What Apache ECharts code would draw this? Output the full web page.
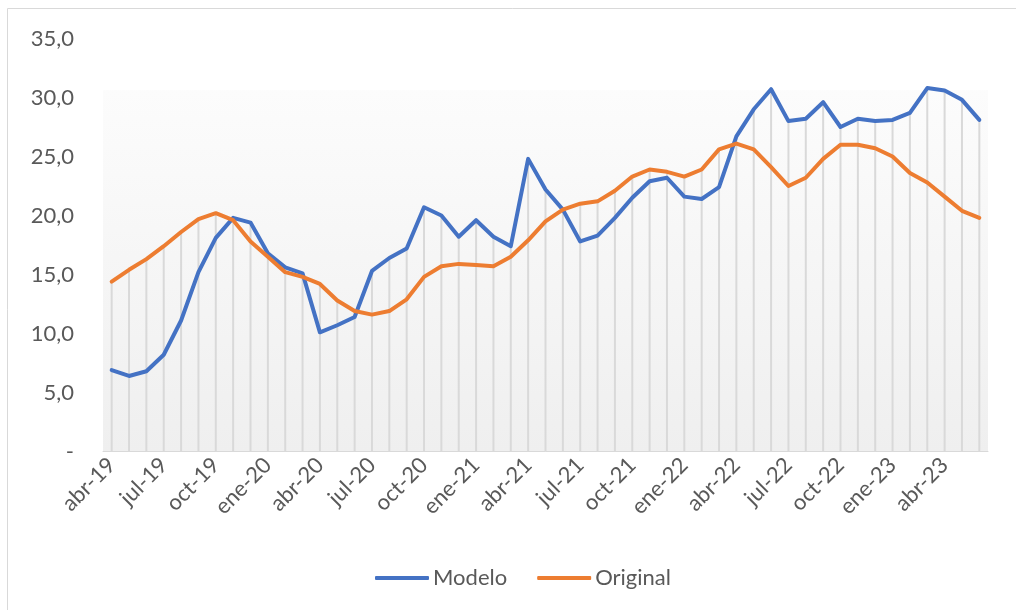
<!DOCTYPE html>
<html>
<head>
<meta charset="utf-8">
<script src="https://cdn.jsdelivr.net/npm/echarts@6/dist/echarts.min.js"></script>
<style>
    html, body { margin: 0; padding: 0; background: #fff; }
    #chart { width: 1016px; height: 610px; }
</style>
</head>
<body>
<div id="chart"></div>
<script>
const months = [
    'abr-19', 'may-19', 'jun-19', 'jul-19', 'ago-19', 'sep-19', 'oct-19', 'nov-19', 'dic-19',
    'ene-20', 'feb-20', 'mar-20', 'abr-20', 'may-20', 'jun-20', 'jul-20', 'ago-20', 'sep-20',
    'oct-20', 'nov-20', 'dic-20', 'ene-21', 'feb-21', 'mar-21', 'abr-21', 'may-21', 'jun-21',
    'jul-21', 'ago-21', 'sep-21', 'oct-21', 'nov-21', 'dic-21', 'ene-22', 'feb-22', 'mar-22',
    'abr-22', 'may-22', 'jun-22', 'jul-22', 'ago-22', 'sep-22', 'oct-22', 'nov-22', 'dic-22',
    'ene-23', 'feb-23', 'mar-23', 'abr-23', 'may-23', 'jun-23'
]

const modelo = [
    6.9, 6.4, 6.8, 8.2, 11.1, 15.2, 18.1, 19.8, 19.4, 16.8, 15.6, 15.1,
    10.1, 10.7, 11.4, 15.3, 16.4, 17.2, 20.7, 20.0, 18.2, 19.6, 18.2, 17.4,
    24.8, 22.2, 20.5, 17.8, 18.3, 19.8, 21.5, 22.9, 23.2, 21.6, 21.4, 22.4,
    26.7, 29.0, 30.7, 28.0, 28.2, 29.6, 27.5, 28.2, 28.0, 28.1, 28.7, 30.8,
    30.6, 29.8, 28.1
]

const original = [
    14.4, 15.4, 16.3, 17.4, 18.6, 19.7, 20.2, 19.6, 17.8, 16.5, 15.2, 14.8,
    14.2, 12.8, 11.9, 11.6, 11.9, 12.9, 14.8, 15.7, 15.9, 15.8, 15.7, 16.5,
    17.9, 19.5, 20.5, 21.0, 21.2, 22.1, 23.3, 23.9, 23.7, 23.3, 23.9, 25.6,
    26.1, 25.6, 24.1, 22.5, 23.2, 24.8, 26.0, 26.0, 25.7, 25.0, 23.6, 22.8,
    21.6, 20.4, 19.8
]

// Excel style drop lines: from the higher of the two points down to the axis
const dropLines = modelo.map((v, i) => Math.max(v, original[i]))

const fontFamily = 'Lato, "Open Sans", sans-serif'
const textColor = '#595959'

const chart = echarts.init(document.getElementById('chart'))

chart.setOption({
    animation: false,
    textStyle: { fontFamily: fontFamily },
    graphic: [
        {
            type: 'rect',
            shape: { x: 7.5, y: 8.5, width: 1020, height: 620 },
            style: { fill: 'none', stroke: '#d9d9d9', lineWidth: 1 },
            silent: true,
            z: -10
        }
    ],
    grid: {
        left: 103,
        right: 28,
        top: 38.5,
        bottom: 158.5,
        show: true,
        borderWidth: 0,
        backgroundColor: new echarts.graphic.LinearGradient(0, 0, 0, 1, [
            { offset: 0, color: '#ffffff' },
            { offset: 0.124, color: '#ffffff' },
            { offset: 0.126, color: '#fcfcfc' },
            { offset: 1, color: '#efefef' }
        ])
    },
    legend: {
        data: ['Modelo', 'Original'],
        bottom: 16,
        left: 370,
        icon: 'roundRect',
        itemWidth: 54,
        itemHeight: 4,
        itemGap: 30,
        textStyle: { fontSize: 22, color: textColor, fontFamily: fontFamily, padding: [0, 0, 0, -1] }
    },
    xAxis: {
        type: 'category',
        data: months,
        boundaryGap: true,
        axisLine: { lineStyle: { color: '#d9d9d9', width: 1 } },
        axisTick: { interval: 2, length: 6, lineStyle: { color: '#d9d9d9' } },
        axisLabel: {
            interval: 2,
            rotate: 45,
            margin: 10,
            fontSize: 22,
            color: textColor,
            fontFamily: fontFamily
        },
        splitLine: { show: false }
    },
    yAxis: {
        type: 'value',
        min: 0,
        max: 35,
        interval: 5,
        axisLine: { show: false },
        axisTick: { show: false },
        splitLine: { show: false },
        axisLabel: {
            margin: 29,
            fontSize: 22,
            color: textColor,
            fontFamily: fontFamily,
            formatter: v => (v === 0 ? '-' : v.toFixed(1).replace('.', ','))
        }
    },
    series: [
        {
            name: 'drop',
            type: 'bar',
            data: dropLines,
            barWidth: 2,
            silent: true,
            itemStyle: { color: '#d9d9d9' },
            z: 1
        },
        {
            name: 'Modelo',
            type: 'line',
            data: modelo,
            symbol: 'none',
            lineStyle: { width: 4, color: '#4472c4', join: 'round', cap: 'round' },
            itemStyle: { color: '#4472c4' },
            z: 3
        },
        {
            name: 'Original',
            type: 'line',
            data: original,
            symbol: 'none',
            lineStyle: { width: 4, color: '#ed7d31', join: 'round', cap: 'round' },
            itemStyle: { color: '#ed7d31' },
            z: 3
        }
    ]
})
</script>
</body>
</html>
